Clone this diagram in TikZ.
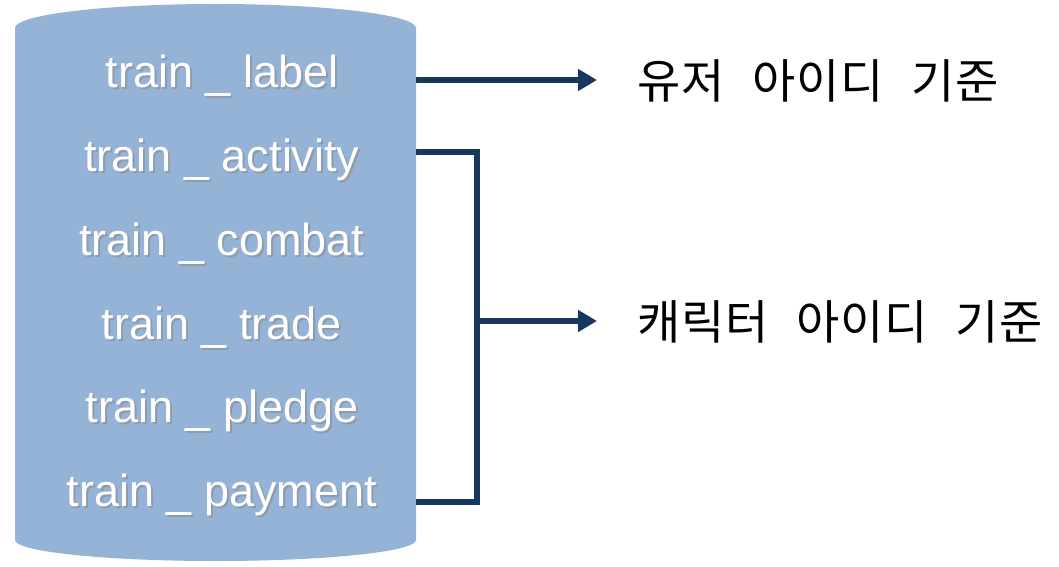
\documentclass[tikz,border=0pt]{standalone}
\usepackage{fontspec}
\setmainfont{Liberation Sans}
\newfontfamily\kofont[WordSpace=2.4,LetterSpace=2]{Noto Sans CJK KR}
\usetikzlibrary{arrows.meta}
\definecolor{cylblue}{HTML}{95B3D7}
\definecolor{linkblue}{HTML}{17375E}
\tikzset{
  cyltext/.style={anchor=base, inner sep=0pt, text=white, font=\fontsize{45}{50}\selectfont},
  cylshadow/.style={anchor=base, inner sep=0pt, text=black!45, opacity=0.6, font=\fontsize{45}{50}\selectfont},
  link/.style={draw=linkblue, line width=6pt},
  linkarrow/.style={link, -{Triangle[length=19pt,width=21pt]}},
  idtext/.style={anchor=west, inner sep=0pt, font=\kofont\fontsize{47}{52}\selectfont}
}
\begin{document}
\begin{tikzpicture}[x=1pt,y=1pt]
\useasboundingbox (0,0) rectangle (1059,566);
% cylinder
\fill[cylblue] (15,26) -- (15,538) arc[start angle=180,end angle=0,x radius=200.5pt,y radius=24pt]
  -- (416,26) arc[start angle=0,end angle=-180,x radius=200.5pt,y radius=21pt] -- cycle;
% texts
\foreach \n/\t [count=\i from 0] in {label/label,activity/activity,combat/combat,trade/trade,pledge/pledge,payment/payment}{
  \node[cylshadow] at (224,{478-83.7*\i-2}) {train \_ \t};
  \node[cyltext] (\n) at (222,{478-83.7*\i}) {train \_ \t};
}
% connector anchors
\coordinate (cL) at (416,486);
\coordinate (cA) at (416,414);
\coordinate (cP) at (416,64);
\coordinate (bTop) at (477,414);
\coordinate (bBot) at (477,64);
\coordinate (bMid) at (477,245);
% labels
\node[idtext] (user) at (637,485) {유저 아이디 기준};
\node[idtext] (char) at (637,244) {캐릭터 아이디 기준};
% connectors
\draw[linkarrow] (cL) -- ([xshift=-40pt]user.west |- cL);
\draw[link, line join=miter] (cA) -- (bTop) -- (bBot) -- (cP);
\draw[linkarrow] (bMid) -- ([xshift=-40pt]char.west |- bMid);
\end{tikzpicture}
\end{document}
